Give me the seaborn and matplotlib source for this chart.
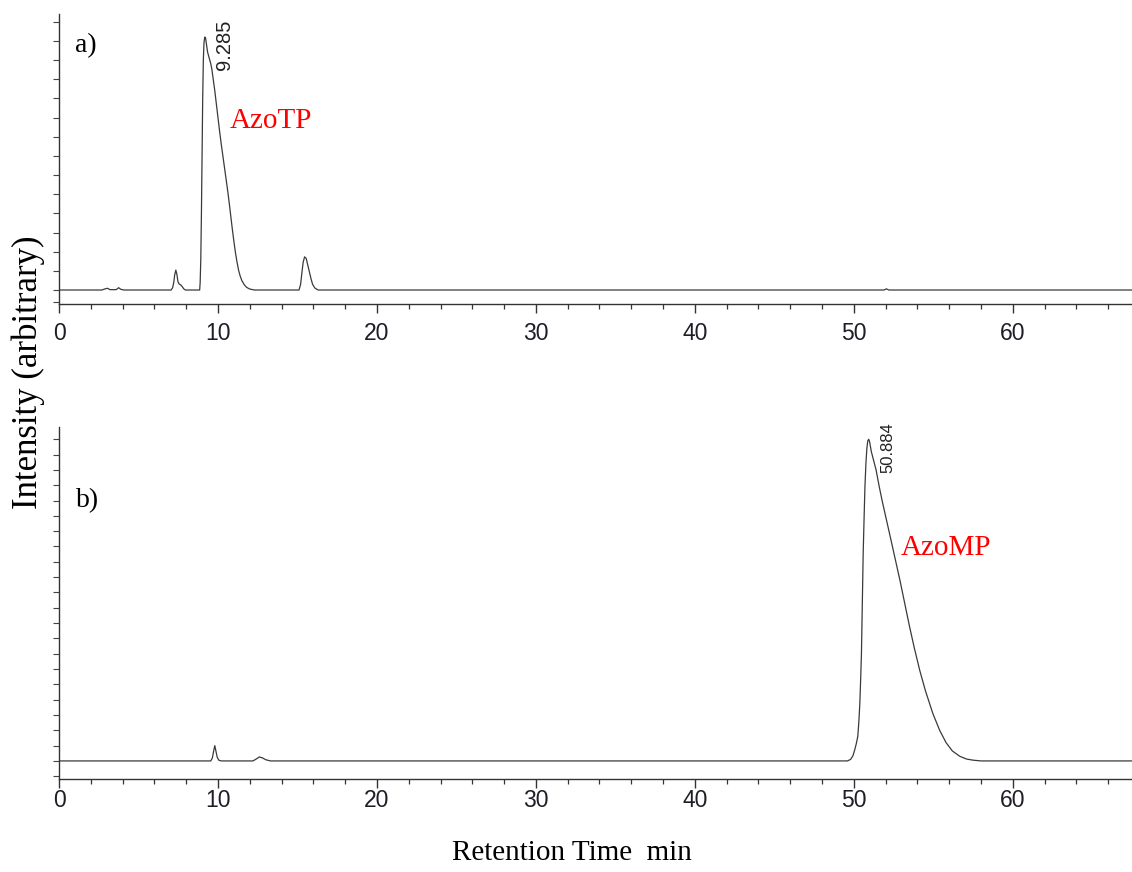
import numpy as np
import pandas as pd
import matplotlib
matplotlib.use("Agg")
import matplotlib.pyplot as plt
from matplotlib.ticker import MultipleLocator, FixedLocator
import seaborn as sns

azotp_time = [0.0, 2.7, 2.9, 3.05, 3.2, 3.6, 3.75, 3.9, 4.1, 7.05, 7.15, 7.22, 7.28, 7.35,
              7.42, 7.48, 7.55, 7.65, 7.75, 7.85, 7.95, 8.85, 8.88, 8.92, 8.96, 9.0, 9.04,
              9.08, 9.12, 9.17, 9.22, 9.28, 9.35, 9.45, 9.55, 9.62, 9.7, 9.8, 9.9, 10.0,
              10.1, 10.2, 10.3, 10.4, 10.5, 10.6, 10.7, 10.8, 10.9, 11.0, 11.1, 11.2, 11.3,
              11.4, 11.5, 11.65, 11.8, 12.0, 12.3, 15.1, 15.2, 15.28, 15.36, 15.45, 15.55,
              15.65, 15.75, 15.85, 15.95, 16.1, 16.3, 51.9, 52.05, 52.2, 67.6]
azotp_signal = [0.0, 0.0, 0.06, 0.09, 0.02, 0.02, 0.12, 0.03, 0.0, 0.0, 0.12, 0.4, 0.8, 1.04,
                0.8, 0.45, 0.32, 0.27, 0.18, 0.06, 0.0, 0.0, 0.4, 1.6, 4.0, 7.0, 10.0,
                12.0, 12.9, 13.2, 13.15, 12.8, 12.4, 12.1, 11.8, 11.5, 11.0, 10.4, 9.7, 9.0,
                8.3, 7.65, 7.05, 6.45, 5.85, 5.25, 4.6, 3.9, 3.2, 2.55, 1.95, 1.45, 1.02,
                0.72, 0.5, 0.28, 0.14, 0.05, 0.0, 0.0, 0.3, 0.9, 1.45, 1.73, 1.65,
                1.3, 0.95, 0.6, 0.3, 0.1, 0.0, 0.0, 0.06, 0.0, 0.0]

azomp_time = [0.0, 9.55, 9.65, 9.72, 9.8, 9.88, 9.95, 10.05, 10.2, 12.2, 12.4, 12.6, 12.8,
              13.0, 13.3, 49.6, 49.8, 49.95, 50.05, 50.15, 50.25, 50.32, 50.38, 50.43, 50.48,
              50.53, 50.59, 50.65, 50.7, 50.76, 50.82, 50.88, 50.94, 51.0, 51.1, 51.2, 51.4,
              51.6, 51.8, 52.05, 52.3, 52.6, 52.9, 53.2, 53.5, 53.8, 54.15, 54.5, 54.97,
              55.4, 55.8, 56.2, 56.67, 57.1, 57.5, 58.0, 67.6]
azomp_signal = [0.0, 0.0, 0.2, 0.6, 1.0, 0.6, 0.25, 0.05, 0.0, 0.0, 0.12, 0.26, 0.2,
                0.08, 0.0, 0.0, 0.1, 0.35, 0.7, 1.1, 1.6, 2.6, 3.8, 5.3, 7.0,
                10.0, 13.6, 16.0, 17.9, 19.4, 20.4, 20.9, 21.0, 20.8, 20.2, 19.8, 19.0,
                17.9, 16.9, 15.75, 14.6, 13.2, 11.8, 10.3, 8.8, 7.4, 5.9, 4.6, 3.1,
                2.0, 1.2, 0.65, 0.3, 0.12, 0.05, 0.0, 0.0]

panel_tags = ["a)", "b)"]
compound_names = ["AzoTP", "AzoMP"]
peak_times = ["9.285", "50.884"]

x_max = 67.5
top_ylim = (-0.73, 14.4)
bottom_ylim = (-1.18, 21.8)
top_yticks = list(range(0, 15)) + [-0.6]
bottom_yticks = list(range(0, 22)) + [-0.98]

sns.set_theme(style="white")
plt.rcParams["font.family"] = ["Liberation Sans", "DejaVu Sans"]

W, H = 1132, 872
fig = plt.figure(figsize=(W / 100, H / 100), dpi=100)
left = 59 / W
ax_a = fig.add_axes([left, 1 - 304 / H, 1 - left, (304 - 14) / H])
ax_b = fig.add_axes([left, 1 - 779 / H, 1 - left, (779 - 427) / H])

line_kw = dict(color="#3a3a3a", linewidth=0.9, sort=False, estimator=None, legend=False)
sns.lineplot(x=azotp_time, y=azotp_signal, ax=ax_a, **line_kw)
sns.lineplot(x=azomp_time, y=azomp_signal, ax=ax_b, **line_kw)

serif = ["Liberation Serif", "DejaVu Serif"]

for ax, ylim, yt, pad in [(ax_a, top_ylim, top_yticks, 6.5), (ax_b, bottom_ylim, bottom_yticks, 1.0)]:
    ax.set_xlim(0, x_max)
    ax.set_ylim(*ylim)
    ax.set_facecolor("white")
    for s in ("top", "right"):
        ax.spines[s].set_visible(False)
    for s in ("left", "bottom"):
        ax.spines[s].set_color("#333333")
        ax.spines[s].set_linewidth(1.0)
    ax.xaxis.set_major_locator(MultipleLocator(10))
    ax.xaxis.set_minor_locator(MultipleLocator(2))
    ax.yaxis.set_major_locator(FixedLocator(yt))
    ax.tick_params(axis="x", which="major", direction="out", length=6.5, width=1.0,
                   color="#333333", labelsize=16.5, labelcolor="#1e1e28", pad=pad,
                   bottom=True)
    ax.tick_params(axis="x", which="minor", direction="out", length=3.5, width=0.9,
                   color="#333333", bottom=True)
    ax.tick_params(axis="y", which="major", direction="out", length=4.0, width=0.8,
                   color="#444444", labelleft=False, left=True)
    ax.set_xlabel("")
    ax.set_ylabel("")
    ax.grid(False)

# panel annotations
ax_a.text(1.7, 12.76, panel_tags[0], family=serif, fontsize=20, ha="center", va="center", color="black")
ax_b.text(1.82, 17.0, panel_tags[1], family=serif, fontsize=20, ha="center", va="center", color="black")

ax_a.text(10.44, 11.46, peak_times[0], rotation=90, fontsize=14.5, ha="center", va="bottom", color="#222222")
ax_b.text(52.14, 18.8, peak_times[1], rotation=90, fontsize=12, ha="center", va="bottom", color="#222222")

ax_a.text(13.33, 8.8, compound_names[0], family=serif, fontsize=21, color="#ff0000", ha="center", va="center")
ax_b.text(55.8, 13.9, compound_names[1], family=serif, fontsize=21, color="#ff0000", ha="center", va="center")

fig.text(28 / W, 1 - 372 / H, "Intensity (arbitrary)", rotation=90, family=serif,
         fontsize=25, ha="center", va="center", color="black")
fig.text(572 / W, 1 - 853 / H, "Retention Time  min", family=serif,
         fontsize=21, ha="center", va="center", color="black")

fig.savefig("out.png", dpi=100, facecolor="white")
